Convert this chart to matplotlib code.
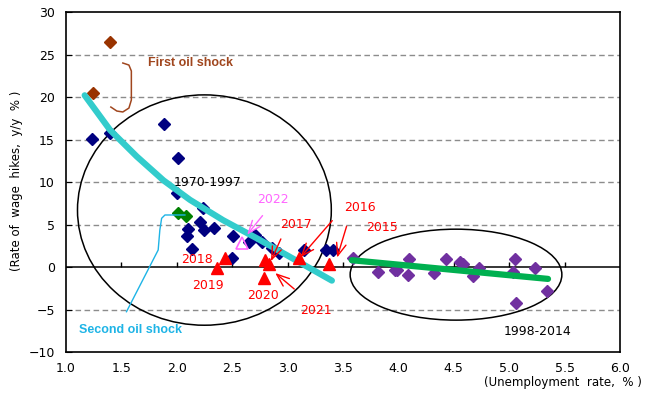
import matplotlib
matplotlib.use("Agg")
import matplotlib.pyplot as plt
from matplotlib import font_manager as fm
from matplotlib.patches import Ellipse

names = {f.name for f in fm.fontManager.ttflist}
NARROW = "Liberation Sans Narrow" if "Liberation Sans Narrow" in names else "DejaVu Sans Condensed"
SANS = "Liberation Sans"
plt.rcParams['font.family'] = [NARROW, 'DejaVu Sans']

# ---------------- data ----------------
oil1_x = [1.40, 1.246]
oil1_y = [26.5, 20.5]

navy_x = [1.237, 1.40, 1.89, 2.01, 2.00, 2.24, 2.21, 2.10, 2.25, 2.34, 2.09, 2.14,
          2.51, 2.50, 2.65, 2.71, 2.77, 2.86, 2.92, 3.15, 3.35, 3.41]
navy_y = [15.1, 15.8, 16.8, 12.8, 8.7, 6.9, 5.3, 4.5, 4.35, 4.55, 3.65, 2.1,
          3.7, 1.1, 3.0, 3.8, 2.9, 2.2, 1.6, 2.0, 2.0, 2.0]

oil2_x = [2.01, 2.08]
oil2_y = [6.4, 6.0]

late_x = [3.59, 3.82, 3.97, 3.99, 4.10, 4.09, 4.32, 4.43, 4.56, 4.58, 4.73, 4.67,
          5.05, 5.03, 5.06, 5.23, 5.34]
late_y = [1.1, -0.55, -0.35, -0.3, 1.0, -0.95, -0.75, 1.0, 0.6, 0.3, -0.1, -1.1,
          1.0, -0.6, -4.2, -0.15, -2.8]

recent_years = ['2015', '2016', '2017', '2018', '2019', '2020', '2021']
recent_x = [3.37, 3.105, 2.80, 2.435, 2.36, 2.79, 2.83]
recent_y = [0.4, 1.1, 0.8, 1.1, -0.15, -1.3, 0.4]

y2022_x = [2.59]
y2022_y = [2.8]

# trend lines
trend1_x = [1.17, 1.40, 1.64, 1.88, 2.12, 2.42, 2.72, 3.02, 3.40]
trend1_y = [20.2, 16.1, 13.0, 10.2, 7.9, 5.5, 3.4, 1.2, -1.6]
trend2_x = [3.58, 5.35]
trend2_y = [0.8, -1.4]

xticks = [1.0, 1.5, 2.0, 2.5, 3.0, 3.5, 4.0, 4.5, 5.0, 5.5, 6.0]
yticks = [-10, -5, 0, 5, 10, 15, 20, 25, 30]

# annotation helpers
brace_x = [1.514, 1.569, 1.591, 1.591, 1.569, 1.514, 1.460, 1.406]
brace_y = [24.0, 23.76, 23.06, 19.65, 18.7, 18.24, 18.35, 18.82]
lead_x = [1.547, 1.833, 1.848, 1.864, 1.894, 2.074]
lead_y = [-5.26, 2.0, 4.35, 5.73, 6.12, 6.12]

labels = {'2015': (3.85, 4.6), '2016': (3.65, 7.0), '2017': (3.08, 5.0),
          '2018': (2.18, 0.9), '2019': (2.28, -2.2), '2020': (2.78, -3.3),
          '2021': (3.26, -5.1)}
arrows = [((3.54, 5.1), (3.44, 0.8)), ((3.42, 5.7), (3.10, 0.9)),
          ((2.95, 3.6), (2.84, 0.4)), ((3.08, -2.8), (2.87, -0.5))]

# ---------------- figure ----------------
fig = plt.figure(figsize=(6.52, 3.94), dpi=100)
ax = fig.add_axes([0.101, 0.1066, 0.850, 0.8629])
ax.set_xlim(1.0, 6.0)
ax.set_ylim(-10, 30)

for yv in yticks:
    if yv not in (0, -10, 30):
        ax.axhline(yv, color='#8c8c8c', lw=1.0, ls=(0, (4, 2.5)), zorder=0)
ax.axhline(0, color='black', lw=1.1, zorder=1)
ax.vlines(xticks[1:-1], 0, 0.55, color='black', lw=1, zorder=1)

ax.set_xticks(xticks)
ax.set_xticklabels([f"{v:.1f}" for v in xticks])
ax.set_yticks(yticks)
ax.tick_params(axis='x', length=0, pad=7, labelsize=9)
ax.tick_params(axis='y', direction='in', length=4, labelsize=9, pad=8)
for s in ax.spines.values():
    s.set_linewidth(1.2)

# ellipses
ax.add_patch(Ellipse((2.25, 6.7), 2.29, 27.1, fill=False, ec='black', lw=1.1, zorder=2))
ax.add_patch(Ellipse((4.52, -0.9), 1.91, 10.7, fill=False, ec='black', lw=1.1, zorder=2))

# points
ax.plot(oil1_x, oil1_y, 'D', color='#993300', ms=6.5, zorder=3)
ax.plot(navy_x, navy_y, 'D', color='#000080', ms=6.5, zorder=3)
ax.plot(oil2_x, oil2_y, 'D', color='#008000', ms=6.5, zorder=3)
ax.plot(late_x, late_y, 'D', color='#7030A0', ms=6.5, zorder=3)

# trend lines
ax.plot(trend1_x, trend1_y, color='#33CCCC', lw=4.5, solid_capstyle='round',
        solid_joinstyle='round', zorder=4)
ax.plot(trend2_x, trend2_y, color='#00B050', lw=4.5, solid_capstyle='round', zorder=4)

# recent years
ax.plot(recent_x, recent_y, '^', color='#FF0000', ms=8.5, zorder=5)
ax.plot(y2022_x, y2022_y, '^', mfc='none', mec='#FF66FF', mew=1.2, ms=8.5, zorder=5)

# texts
ax.text(1.74, 24.0, 'First oil shock', color='#A0461E', fontsize=9, fontweight='bold',
        family=[SANS, 'DejaVu Sans'], ha='left', va='center')
ax.plot(brace_x, brace_y, color='#A0461E', lw=1.1, zorder=3)
ax.text(1.12, -7.4, 'Second oil shock', color='#1EB4E6', fontsize=9, fontweight='bold',
        family=[SANS, 'DejaVu Sans'], ha='left', va='center')
ax.plot(lead_x, lead_y, color='#1EB4E6', lw=1.0, zorder=3)
ax.text(2.28, 9.9, '1970-1997', fontsize=9, ha='center', va='center', zorder=6)
ax.text(5.26, -7.6, '1998-2014', fontsize=9, ha='center', va='center')

for yr, (tx, ty) in labels.items():
    ax.text(tx, ty, yr, color='#FF0000', fontsize=9, ha='center', va='center', zorder=6)
for (s, e) in arrows:
    ax.annotate('', xy=e, xytext=s,
                arrowprops=dict(arrowstyle='->,head_length=0.9,head_width=0.35',
                                color='#FF0000', lw=1.0), zorder=6)
ax.text(2.87, 8.0, '2022', color='#FF66FF', fontsize=9, ha='center', va='center', zorder=6)
ax.annotate('', xy=(2.62, 3.55), xytext=(2.79, 6.3),
            arrowprops=dict(arrowstyle='->,head_length=0.9,head_width=0.35',
                            color='#FF66FF', lw=1.0), zorder=6)

fig.text(0.026, 0.54, '(Rate of  wage  hikes,  y/y  % )', rotation=90,
         fontsize=8.5, ha='center', va='center')
fig.text(0.985, 0.028, '(Unemployment  rate,  % )', fontsize=8.5, ha='right', va='center')

fig.savefig('out.png', dpi=100)
